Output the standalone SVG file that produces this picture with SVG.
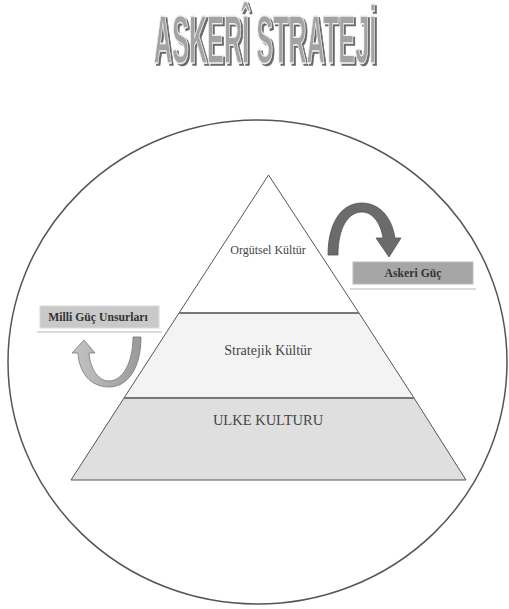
<svg xmlns="http://www.w3.org/2000/svg" width="509" height="609" viewBox="0 0 509 609">
<style>
.serif{font-family:"Liberation Serif","Times New Roman",serif;}
.lbl{fill:#444;text-anchor:middle;}
.box{font-weight:bold;fill:#333;text-anchor:middle;font-size:11.7px;}
.tier{stroke:#555;stroke-width:1;}
.div{stroke:#777;stroke-width:2;}
.shadowline{stroke:#dcdcdc;stroke-width:2;}
.title{font-family:"Liberation Sans",Arial,sans-serif;font-weight:bold;font-size:68px;}
</style>
<defs>
<linearGradient id="lg" x1="0" y1="0" x2="1" y2="0">
<stop offset="0" stop-color="#c4c4c4"/>
<stop offset="1" stop-color="#9a9a9a"/>
</linearGradient>
<filter id="ts" x="-10%" y="-20%" width="120%" height="140%">
<feOffset in="SourceAlpha" dx="5" dy="2" result="o"/>
<feFlood flood-color="#6a6a6a"/>
<feComposite in2="o" operator="in" result="s"/>
<feMerge><feMergeNode in="s"/><feMergeNode in="SourceGraphic"/></feMerge>
</filter>
</defs>
<rect width="509" height="609" fill="#fff"/>
<g id="title" transform="translate(265,63) scale(0.371,1)">
<text class="title" x="0" y="0" text-anchor="middle" fill="#a3a3a3" stroke="#f0f0f0" stroke-width="1.4" filter="url(#ts)">ASKERÎ STRATEJİ</text>
</g>
<g id="circle">
<ellipse cx="257.5" cy="362" rx="249.5" ry="242" fill="none" stroke="#555" stroke-width="1.5"/>
</g>
<g id="pyramid">
<g id="tier-bottom">
<polygon class="tier" points="124,398 414,398 466,480 71,480" fill="#dfdfdf"/>
<text class="serif lbl" x="268" y="425" font-size="14.5">ULKE KULTURU</text>
</g>
<g id="tier-middle">
<polygon class="tier" points="179,313 359,313 414,398 124,398" fill="#f3f3f3"/>
<text class="serif lbl" x="268" y="355" font-size="14">Stratejik Kültür</text>
</g>
<g id="tier-top">
<polygon class="tier" points="268.5,175 359,313 179,313" fill="#fff"/>
<text class="serif lbl" x="268" y="254" font-size="12">Orgütsel Kültür</text>
</g>
<line class="div" x1="179" y1="313" x2="359" y2="313"/>
<line class="div" x1="124" y1="398" x2="414" y2="398"/>
</g>
<g id="askeri-guc">
<rect x="353" y="262" width="120" height="22" fill="#a6a6a6" stroke="#bdbdbd" stroke-width="1"/>
<line class="shadowline" x1="350" y1="289" x2="476" y2="289"/>
<text class="serif box" x="413" y="276.5">Askeri Güç</text>
</g>
<g id="milli-guc">
<rect x="40" y="306" width="119" height="22" fill="#c9c9c9" stroke="#dadada" stroke-width="1"/>
<line class="shadowline" x1="37" y1="332" x2="162" y2="332"/>
<text class="serif box" x="98" y="320.5">Milli Güç Unsurları</text>
</g>
<g id="connectors">
<path d="M328,255 C328,225 340,203 362,203 C380,203 392,218 395,238 L401,238 L389,257 L376,238 L383,238 C381,224 373,212 362,212 C348,212 338,228 338,255 Z" fill="#6b6b6b" stroke="#555" stroke-width="0.8"/>
<path d="M141,337 C141,368 128,387 109,387 C90,387 79,372 78,353 L72,353 L84,340 L95,353 L89,353 C90,368 98,381 109,381 C123,381 133,362 133,337 Z" fill="url(#lg)" stroke="#777" stroke-width="0.8"/>
</g>
</svg>
